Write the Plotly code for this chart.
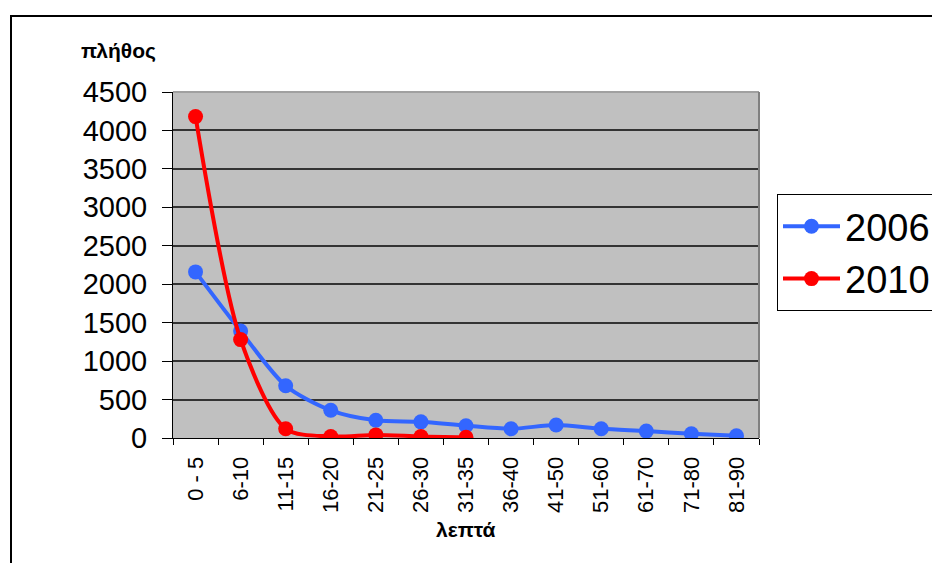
import plotly.graph_objects as go

categories = ["0 - 5", "6-10", "11-15", "16-20", "21-25", "26-30", "31-35",
              "36-40", "41-50", "51-60", "61-70", "71-80", "81-90"]
counts_2006 = [2160, 1390, 680, 360, 230, 210, 160, 120, 170, 120, 90, 55, 30]
counts_2010 = [4180, 1280, 120, 20, 40, 20, 10]
y_ticks = [0, 500, 1000, 1500, 2000, 2500, 3000, 3500, 4000, 4500]

W, H = 932, 563
L, R, T, B = 173, W - 759, 92, H - 438

def px_x(x):
    return (x - L) / (W - L - R)

def px_y(y):
    return (H - B - y) / (H - T - B)

fig = go.Figure()
fig.add_trace(go.Scatter(
    x=categories, y=counts_2006, name="2006", mode="lines+markers",
    line=dict(color="#3366FF", width=4, shape="spline", smoothing=0.8),
    marker=dict(color="#3366FF", size=15),
))
fig.add_trace(go.Scatter(
    x=categories[:len(counts_2010)], y=counts_2010, name="2010", mode="lines+markers",
    line=dict(color="#FF0000", width=4, shape="spline", smoothing=0.8),
    marker=dict(color="#FF0000", size=15),
))

font = "Liberation Sans, Arial, sans-serif"

fig.update_layout(
    width=W, height=H,
    margin=dict(l=L, r=R, t=T, b=B, pad=0, autoexpand=False),
    paper_bgcolor="white",
    plot_bgcolor="#C0C0C0",
    font=dict(family=font, color="black"),
    showlegend=True,
    legend=dict(
        x=px_x(777), y=px_y(194), xanchor="left", yanchor="top",
        bgcolor="white", bordercolor="black", borderwidth=1,
        font=dict(size=38, family=font),
        itemwidth=57,
        tracegroupgap=0,
    ),
    xaxis=dict(
        type="category", categoryorder="array", categoryarray=categories,
        range=[-0.5, len(categories) - 0.5],
        showgrid=False, zeroline=False,
        showline=True, linecolor="black", linewidth=1,
        ticks="outside", tickson="boundaries", ticklen=6, tickcolor="black",
        tickangle=-90, tickfont=dict(size=22),
        ticklabelstandoff=9,
    ),
    yaxis=dict(
        range=[0, 4500], tickvals=y_ticks,
        showgrid=True, gridcolor="#333333", gridwidth=1.5,
        zeroline=False,
        showline=True, linecolor="black", linewidth=1,
        ticks="outside", ticklen=10, tickcolor="black",
        tickfont=dict(size=29),
        ticklabelstandoff=9,
    ),
    annotations=[
        dict(text="<b>πλήθος</b>", xref="paper", yref="paper",
             x=px_x(118), y=px_y(51), xanchor="center", yanchor="middle",
             showarrow=False, font=dict(size=21)),
        dict(text="<b>λεπτά</b>", xref="paper", yref="paper",
             x=px_x(466), y=px_y(529), xanchor="center", yanchor="middle",
             showarrow=False, font=dict(size=21)),
    ],
    shapes=[
        # outer chart frame
        dict(type="rect", xref="paper", yref="paper",
             x0=px_x(11), x1=px_x(960), y0=px_y(600), y1=px_y(16),
             line=dict(color="black", width=2), layer="below"),
        # plot-area edges
        dict(type="line", xref="paper", yref="paper",
             x0=0, x1=1, y0=1, y1=1, line=dict(color="#A0A0A0", width=2)),
        dict(type="line", xref="paper", yref="paper",
             x0=1, x1=1, y0=0, y1=1, line=dict(color="#808080", width=2)),
    ],
)

fig.write_html("out.html")
